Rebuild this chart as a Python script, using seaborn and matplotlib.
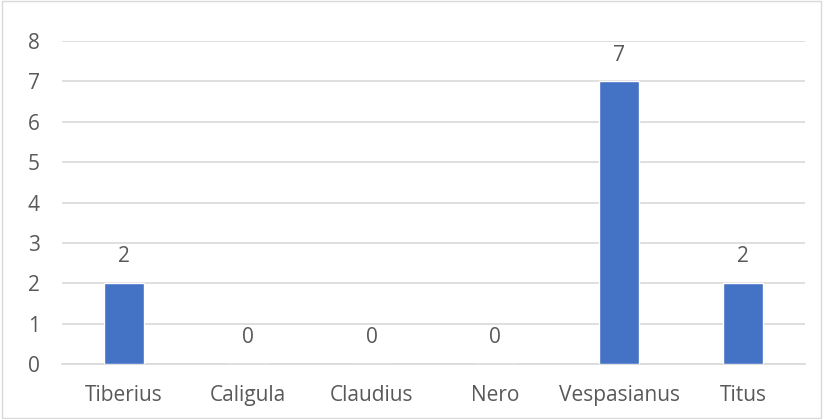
import matplotlib
matplotlib.use('Agg')
import matplotlib.pyplot as plt
import seaborn as sns
import pandas as pd

emperors = ['Tiberius', 'Caligula', 'Claudius', 'Nero', 'Vespasianus', 'Titus']
counts = [2, 0, 0, 0, 7, 2]

df = pd.DataFrame({'emperor': emperors, 'count': counts})

sns.set_style('white')
plt.rcParams['font.family'] = ['Open Sans', 'DejaVu Sans']

text_color = '#595959'

fig = plt.figure(figsize=(8.23, 4.19), dpi=100)
ax = fig.add_axes([0.0753, 0.131, 0.9027, 0.771])

sns.barplot(data=df, x='emperor', y='count', color='#4472C4', width=0.32,
            saturation=1, ax=ax, zorder=3)

ax.set_ylim(0, 8)
ax.set_yticks(range(0, 9))
ax.yaxis.grid(True, color='#D9D9D9', linewidth=1.2, zorder=0)
ax.set_xlabel('')
ax.set_ylabel('')
for s in ['top', 'right', 'left']:
    ax.spines[s].set_visible(False)
ax.spines['bottom'].set_color('#D9D9D9')
ax.spines['bottom'].set_linewidth(1.2)
ax.tick_params(axis='both', length=0, labelsize=15, colors=text_color)
ax.tick_params(axis='x', pad=15)
ax.tick_params(axis='y', pad=16)

# value labels above each bar
for i, v in enumerate(counts):
    ax.annotate(str(v), (i, v), xytext=(0, 19), textcoords='offset points',
                ha='center', va='center', fontsize=15, color=text_color)

# light frame around the chart
fig.patches.append(plt.Rectangle((0.003, 0.002), 0.995, 0.995, transform=fig.transFigure,
                                 fill=False, edgecolor='#D9D9D9', linewidth=1))

fig.savefig('out.png', dpi=100)
